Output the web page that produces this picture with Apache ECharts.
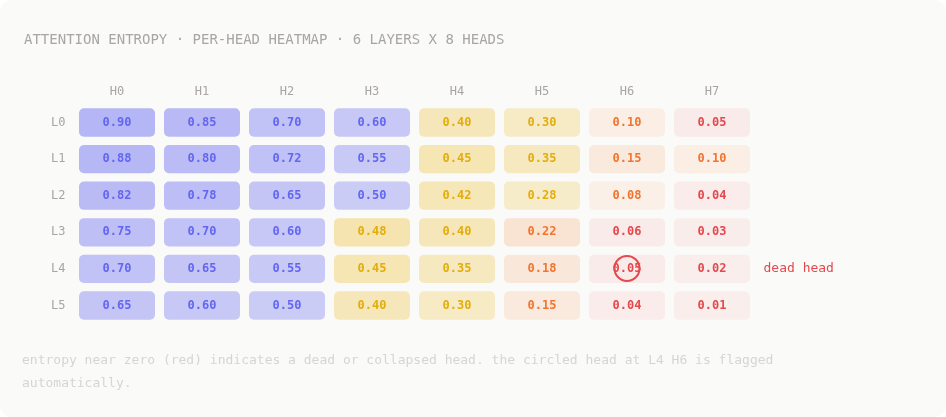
<!DOCTYPE html>
<html>
<head>
<meta charset="utf-8">
<script src="https://cdn.jsdelivr.net/npm/echarts@6/dist/echarts.min.js"></script>
<style>
    html, body {margin: 0; padding: 0; background: #ffffff;}
    #card {width: 946px; height: 417px; background: #fafaf8; border-radius: 12px; overflow: hidden;}
    #chart {width: 946px; height: 417px;}
</style>
</head>
<body>
<div id="card"><div id="chart"></div></div>
<script>
const heads = ['H0', 'H1', 'H2', 'H3', 'H4', 'H5', 'H6', 'H7'];
const layers = ['L0', 'L1', 'L2', 'L3', 'L4', 'L5'];

// entropy per layer, one value per head
const L0 = [0.90, 0.85, 0.70, 0.60, 0.40, 0.30, 0.10, 0.05];
const L1 = [0.88, 0.80, 0.72, 0.55, 0.45, 0.35, 0.15, 0.10];
const L2 = [0.82, 0.78, 0.65, 0.50, 0.42, 0.28, 0.08, 0.04];
const L3 = [0.75, 0.70, 0.60, 0.48, 0.40, 0.22, 0.06, 0.03];
const L4 = [0.70, 0.65, 0.55, 0.45, 0.35, 0.18, 0.05, 0.02];
const L5 = [0.65, 0.60, 0.50, 0.40, 0.30, 0.15, 0.04, 0.01];

const deadHead = [6, 4]; // H6, L4
const deadLabel = 'dead head';

const titleText = 'ATTENTION ENTROPY · PER-HEAD HEATMAP · 6 LAYERS X 8 HEADS';
const noteText = 'entropy near zero (red) indicates a dead or collapsed head. the circled head at L4 H6 is flagged automatically.';

const rows = [L0, L1, L2, L3, L4, L5];
const cells = [];
rows.forEach(function (row, y) {
    row.forEach(function (v, x) {
        cells.push([x, y, v]);
    });
});

const mono = '"DejaVu Sans Mono", monospace';

function tier(v) {
    if (v >= 0.5) return {rgb: [99, 102, 241], text: '#6366f1', alpha: 0.12 + 0.37 * v};
    if (v >= 0.25) return {rgb: [234, 179, 8], text: '#e3ad0c', alpha: 0.05 + 0.52 * v};
    if (v >= 0.07) return {rgb: [249, 115, 22], text: '#f2742e', alpha: 0.017 + 0.667 * v};
    return {rgb: [239, 68, 68], text: '#e5484d', alpha: 0.06 + 0.4 * v};
}

const chart = echarts.init(document.getElementById('chart'));

const option = {
    animation: false,
    backgroundColor: 'transparent',
    title: {
        text: titleText,
        left: 19,
        top: 28,
        textStyle: {fontFamily: mono, fontSize: 14, fontWeight: 'normal', color: '#a9a5a0'}
    },
    grid: {left: 74.5, right: 191.5, top: 104.2, bottom: 93.2},
    xAxis: {
        type: 'category',
        position: 'top',
        data: heads,
        axisLine: {show: false},
        axisTick: {show: false},
        splitLine: {show: false},
        axisLabel: {margin: 6, fontFamily: mono, fontSize: 12, color: '#a9a5a0'}
    },
    yAxis: {
        type: 'category',
        data: layers,
        inverse: true,
        axisLine: {show: false},
        axisTick: {show: false},
        splitLine: {show: false},
        axisLabel: {margin: 9, fontFamily: mono, fontSize: 12, color: '#a9a5a0'}
    },
    graphic: [{
        type: 'text',
        left: 22,
        top: 349,
        style: {
            text: noteText,
            width: 820,
            overflow: 'break',
            lineHeight: 23,
            fontFamily: mono,
            fontSize: 13,
            fill: '#d6d5d1'
        }
    }],
    series: [{
        type: 'custom',
        data: cells,
        encode: {x: 0, y: 1},
        renderItem: function (params, api) {
            const v = api.value(2);
            const c = api.coord([api.value(0), api.value(1)]);
            const band = api.size([1, 1]);
            const w = band[0] - 9;
            const h = band[1] - 8.3;
            const t = tier(v);
            return {
                type: 'group',
                children: [{
                    type: 'rect',
                    shape: {x: c[0] - w / 2, y: c[1] - h / 2, width: w, height: h, r: 5},
                    style: {fill: 'rgba(' + t.rgb.join(',') + ',' + t.alpha.toFixed(3) + ')'}
                }, {
                    type: 'text',
                    x: c[0],
                    y: c[1],
                    style: {
                        text: v.toFixed(2),
                        align: 'center',
                        verticalAlign: 'middle',
                        fontFamily: mono,
                        fontSize: 12,
                        fontWeight: 'bold',
                        fill: t.text
                    }
                }]
            };
        }
    }, {
        type: 'custom',
        data: [deadHead],
        encode: {x: 0, y: 1},
        z: 5,
        renderItem: function (params, api) {
            const c = api.coord([api.value(0), api.value(1)]);
            const edge = api.coord([heads.length - 1, api.value(1)]);
            const band = api.size([1, 1]);
            return {
                type: 'group',
                children: [{
                    type: 'circle',
                    shape: {cx: c[0], cy: c[1] - 0.5, r: 12.5},
                    style: {fill: 'none', stroke: '#e5484d', lineWidth: 2}
                }, {
                    type: 'text',
                    x: edge[0] + band[0] / 2 + 9,
                    y: edge[1],
                    style: {
                        text: deadLabel,
                        align: 'left',
                        verticalAlign: 'middle',
                        fontFamily: mono,
                        fontSize: 13,
                        fill: '#e5484d'
                    }
                }]
            };
        }
    }]
};

chart.setOption(option);
</script>
</body>
</html>
